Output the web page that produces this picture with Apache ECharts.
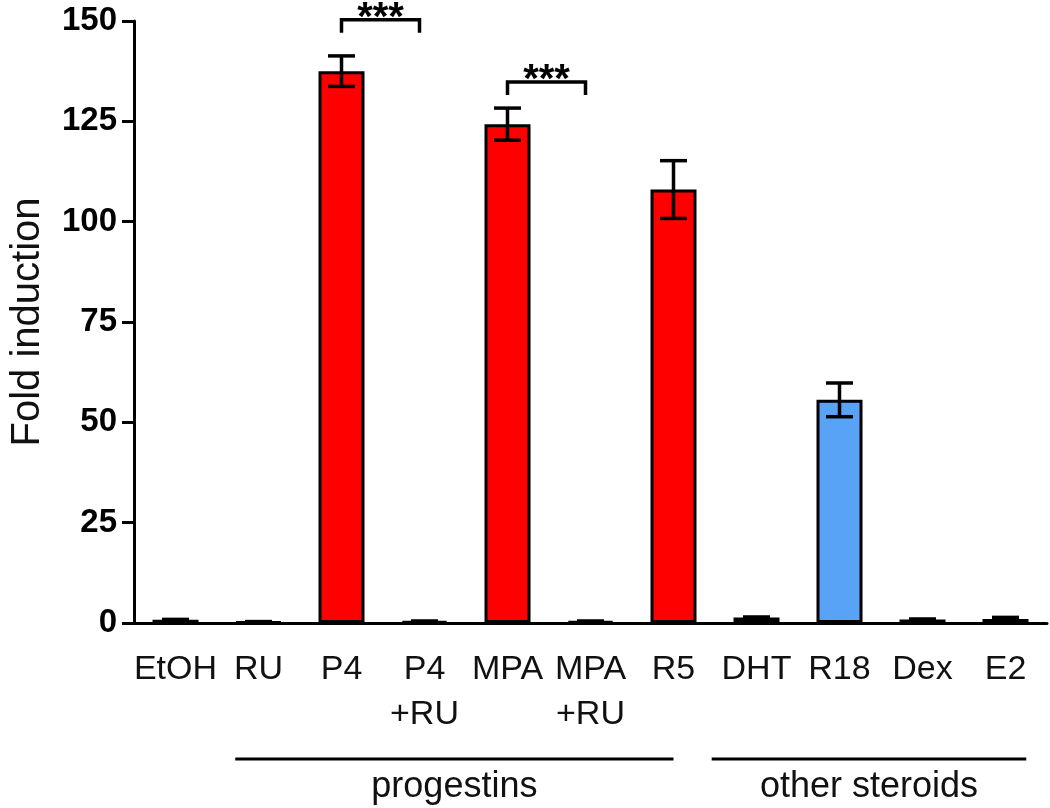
<!DOCTYPE html>
<html><head><meta charset="utf-8">
<script src="https://cdn.jsdelivr.net/npm/echarts@6/dist/echarts.min.js"></script>
<style>html,body{margin:0;padding:0;background:#fff}#c{width:1050px;height:808px}</style>
</head><body><div id="c"></div>
<script>
// ---- data ----
const categories = ['EtOH', 'RU', 'P4', 'P4\n+RU', 'MPA', 'MPA\n+RU', 'R5', 'DHT', 'R18', 'Dex', 'E2'];
const foldInduction = [0.8, 0.3, 137.5, 0.4, 124.3, 0.4, 108.0, 1.4, 55.6, 0.9, 1.0];
const errorSEM = [0.1, 0.05, 3.8, 0.1, 4.0, 0.1, 7.2, 0.1, 4.2, 0.1, 0.4];
const groupOf = ['progestin', 'progestin', 'progestin', 'progestin', 'progestin', 'progestin', 'progestin', 'other', 'other', 'other', 'other'];
const yTicks = [0, 25, 50, 75, 100, 125, 150];
const sigPairs = [['P4', 'P4\n+RU', 150.3, '***'], ['MPA', 'MPA\n+RU', 134.8, '***']];
const groupLabels = [['progestins', 'RU', 'R5'], ['other steroids', 'DHT', 'E2']];

// ---- styles ----
const FONT = "'Liberation Sans', Arial, sans-serif";
const groupColor = { progestin: '#ff0000', other: '#58a3f6' };
const groupLineOffsets = [[-0.28, 0.0], [-0.54, 0.25]];

const chart = echarts.init(document.getElementById('c'), null, { renderer: 'canvas' });

const barData = foldInduction.map((v, i) => ({ value: v, itemStyle: { color: groupColor[groupOf[i]] } }));
const errData = foldInduction.map((v, i) => [i, v - errorSEM[i], v + errorSEM[i]]);
const sigData = sigPairs.map(p => [categories.indexOf(p[0]), categories.indexOf(p[1]), p[2], p[3]]);
const grpData = groupLabels.map(g => [categories.indexOf(g[1]), categories.indexOf(g[2]), g[0]]);

function renderErr(params, api) {
  const x = api.value(0), lo = api.value(1), hi = api.value(2);
  const pLo = api.coord([x, lo]), pHi = api.coord([x, hi]);
  const cap = 13.5;
  const style = { stroke: '#000', lineWidth: 3.5 };
  return { type: 'group', children: [
    { type: 'line', shape: { x1: pLo[0], y1: pLo[1], x2: pHi[0], y2: pHi[1] }, style },
    { type: 'line', shape: { x1: pLo[0] - cap, y1: pLo[1], x2: pLo[0] + cap, y2: pLo[1] }, style },
    { type: 'line', shape: { x1: pHi[0] - cap, y1: pHi[1], x2: pHi[0] + cap, y2: pHi[1] }, style }
  ]};
}

function renderSig(params, api) {
  const a = api.coord([api.value(0), api.value(2)]);
  const b = api.coord([api.value(1), api.value(2)]);
  const leg = 13;
  const style = { stroke: '#000', lineWidth: 3.5, fill: null };
  const label = sigData[params.dataIndex][3];
  return { type: 'group', children: [
    { type: 'polyline', shape: { points: [[a[0], a[1] + leg], [a[0], a[1]], [b[0] - 5, b[1]], [b[0] - 5, b[1] + leg]] }, style },
    { type: 'text', style: { text: label, x: (a[0] + b[0] - 5) / 2, y: a[1] - 1, align: 'center', verticalAlign: 'middle',
      font: 'bold 40px ' + FONT, fill: '#000' } }
  ]};
}

function renderGrp(params, api) {
  const a = api.coord([api.value(0), 0]);
  const b = api.coord([api.value(1), 0]);
  const item = grpData[params.dataIndex];
  const band = api.size([1, 0])[0];
  const off = groupLineOffsets[params.dataIndex];
  const x1 = a[0] + off[0] * band, x2 = b[0] + off[1] * band;
  const yLine = a[1] + 136;
  return { type: 'group', children: [
    { type: 'line', shape: { x1: x1, y1: yLine, x2: x2, y2: yLine }, style: { stroke: '#000', lineWidth: 3 } },
    { type: 'text', style: { text: item[2], x: (x1 + x2) / 2, y: yLine + 28, align: 'center', verticalAlign: 'middle',
      font: '36px ' + FONT, fill: '#111' } }
  ]};
}

chart.setOption({
  animation: false,
  backgroundColor: '#fff',
  grid: { left: 134, right: 3, top: 21, bottom: 185 },
  xAxis: {
    type: 'category',
    data: categories,
    boundaryGap: true,
    axisLine: { lineStyle: { color: '#000', width: 3 } },
    axisTick: { alignWithLabel: true, length: 13, lineStyle: { color: '#000', width: 3 } },
    axisLabel: { interval: 0, fontFamily: FONT, fontSize: 34, lineHeight: 45, color: '#111', margin: 24 }
  },
  yAxis: {
    type: 'value', min: yTicks[0], max: yTicks[yTicks.length - 1], interval: yTicks[1] - yTicks[0],
    name: 'Fold induction', nameLocation: 'middle', nameGap: 86, nameRotate: 90,
    nameTextStyle: { fontFamily: FONT, fontSize: 40, color: '#111' },
    axisLine: { show: true, lineStyle: { color: '#000', width: 3 } },
    axisTick: { show: true, length: 12, lineStyle: { color: '#000', width: 3 } },
    axisLabel: { fontFamily: FONT, fontSize: 33, fontWeight: 'bold', color: '#000', margin: 17 },
    splitLine: { show: false }
  },
  series: [
    { type: 'bar', data: barData, barWidth: 46, itemStyle: { borderColor: '#000', borderWidth: 3 }, z: 2 },
    { type: 'custom', data: errData, renderItem: renderErr, z: 3, clip: false },
    { type: 'custom', data: sigData, renderItem: renderSig, z: 3, clip: false },
    { type: 'custom', data: grpData, renderItem: renderGrp, z: 3, clip: false }
  ]
});
</script></body></html>
